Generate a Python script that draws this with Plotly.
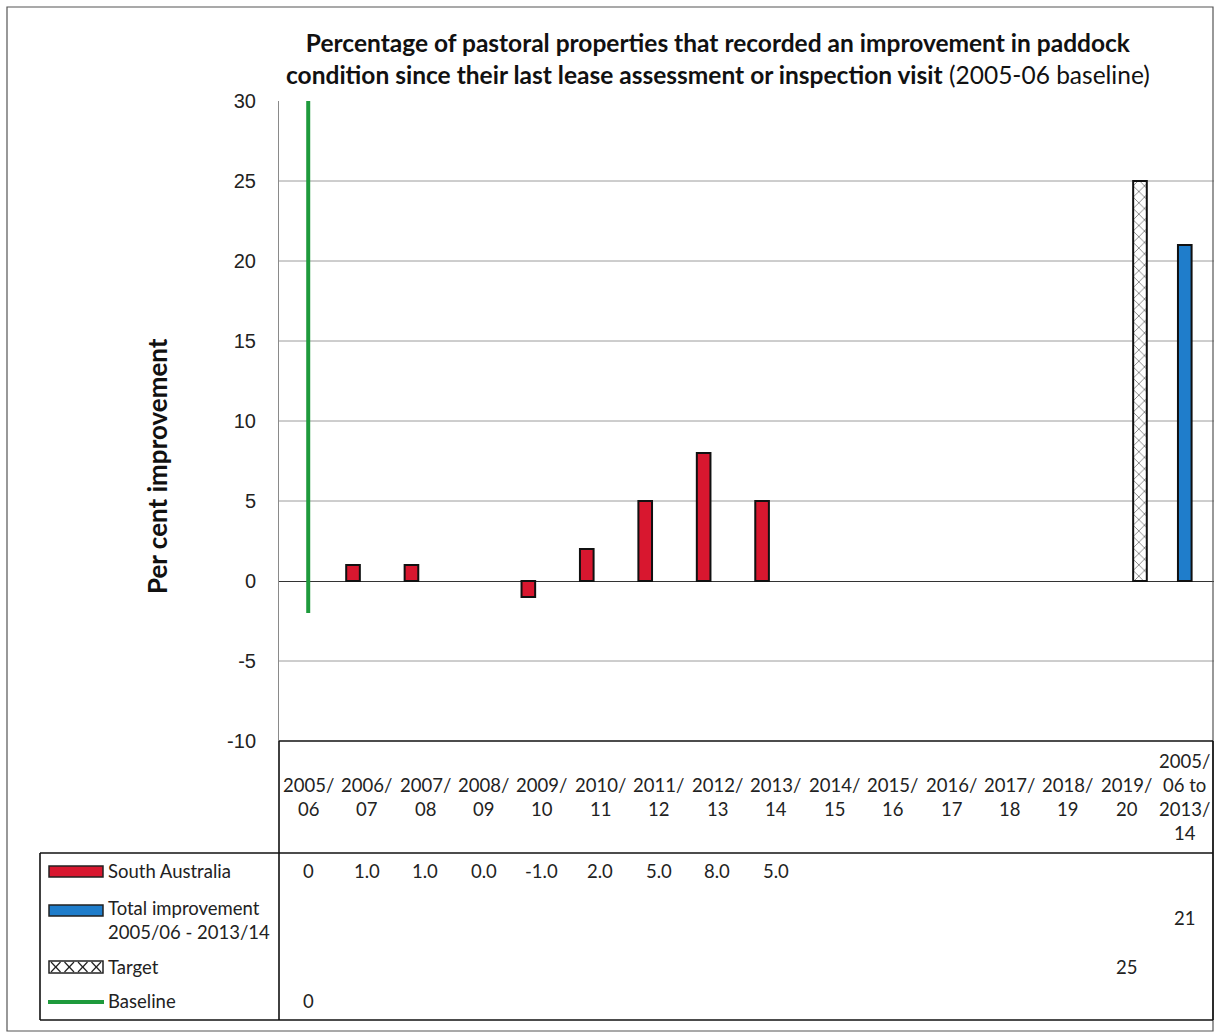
import plotly.graph_objects as go

# ---- data ----
categories = ["2005/06", "2006/07", "2007/08", "2008/09", "2009/10", "2010/11",
              "2011/12", "2012/13", "2013/14", "2014/15", "2015/16", "2016/17",
              "2017/18", "2018/19", "2019/20", "2005/06 to 2013/14"]
header_labels = ["2005/<br>06", "2006/<br>07", "2007/<br>08", "2008/<br>09", "2009/<br>10",
                 "2010/<br>11", "2011/<br>12", "2012/<br>13", "2013/<br>14", "2014/<br>15",
                 "2015/<br>16", "2016/<br>17", "2017/<br>18", "2018/<br>19", "2019/<br>20",
                 "2005/<br>06 to<br>2013/<br>14"]
sa_values = [0, 1.0, 1.0, 0.0, -1.0, 2.0, 5.0, 8.0, 5.0,
             None, None, None, None, None, None, None]
total_values = [None] * 15 + [21]
target_values = [None] * 14 + [25, None]
baseline_value = {"2005/06": 0}
baseline_span = [-2, 30]
y_ticks = [-10, -5, 0, 5, 10, 15, 20, 25, 30]
grid_values = [-5, 5, 10, 15, 20, 25]

# ---- geometry (pixels) ----
W, H = 1216, 1033
ML, MR, MT, MB = 279, 2, 101, 292
PW, PH = W - ML - MR, H - MT - MB


def px(x):
    return (x - ML) / PW


def py(y):
    return (H - MB - y) / PH


FONT = "Lato"
RED = "#D8172F"
BLUE = "#1F7DCB"
GREEN = "#1E9A3C"


def outline_widths(values, w=2):
    # zero-height bars get no outline so they vanish like empty cells
    return [w if (v is not None and v != 0) else 0 for v in values]


fig = go.Figure()

fig.add_trace(go.Bar(
    name="South Australia", x=categories, y=sa_values,
    marker=dict(color=RED, line=dict(color="#111", width=outline_widths(sa_values))),
))
fig.add_trace(go.Bar(
    name="Total improvement 2005/06 - 2013/14", x=categories, y=total_values,
    marker=dict(color=BLUE, line=dict(color="#111", width=2)),
))
fig.add_trace(go.Bar(
    name="Target", x=categories, y=target_values,
    marker=dict(color="white", line=dict(color="#111", width=2),
                pattern=dict(shape="x", fgcolor="#111", bgcolor="white",
                             size=8, solidity=0.22)),
))
base_cat = list(baseline_value)[0]
fig.add_trace(go.Scatter(
    name="Baseline", x=[base_cat, base_cat], y=baseline_span, mode="lines",
    line=dict(color=GREEN, width=4),
))

shapes = []
# horizontal gridlines
for g in grid_values:
    shapes.append(dict(type="line", xref="paper", yref="y", x0=0, x1=1, y0=g, y1=g,
                       line=dict(color="#9c9c9c", width=1), layer="below"))


def hline(x0, x1, y, color="#111", width=1.6):
    shapes.append(dict(type="line", xref="paper", yref="paper",
                       x0=px(x0), x1=px(x1), y0=py(y), y1=py(y),
                       line=dict(color=color, width=width)))


def vline(x, y0, y1, color="#111", width=1.6):
    shapes.append(dict(type="line", xref="paper", yref="paper",
                       x0=px(x), x1=px(x), y0=py(y0), y1=py(y1),
                       line=dict(color=color, width=width)))


# outer chart frame
shapes.append(dict(type="rect", xref="paper", yref="paper",
                   x0=px(7), x1=px(1213), y0=py(1031), y1=py(7),
                   line=dict(color="#555", width=1.2)))
# data table grid
hline(279, 1213, 741)
hline(40, 1213, 853)
hline(40, 1213, 1020)
vline(279, 741, 1020)
vline(1213, 741, 1020)
vline(40, 853, 1020)

# legend keys inside the table
shapes.append(dict(type="rect", xref="paper", yref="paper",
                   x0=px(49), x1=px(103), y0=py(877), y1=py(866),
                   fillcolor=RED, line=dict(color="#222", width=1.5)))
shapes.append(dict(type="rect", xref="paper", yref="paper",
                   x0=px(49), x1=px(103), y0=py(916), y1=py(905),
                   fillcolor=BLUE, line=dict(color="#222", width=1.5)))
shapes.append(dict(type="rect", xref="paper", yref="paper",
                   x0=px(49), x1=px(103), y0=py(973), y1=py(961),
                   fillcolor="white", line=dict(color="#222", width=1.5)))
cell = 54 / 4
for k in range(4):
    a = 49 + k * cell
    b = a + cell
    for (ya, yb) in ((962, 972), (972, 962)):
        shapes.append(dict(type="line", xref="paper", yref="paper",
                           x0=px(a + 2), x1=px(b - 2), y0=py(ya), y1=py(yb),
                           line=dict(color="#222", width=1.2)))
shapes.append(dict(type="line", xref="paper", yref="paper",
                   x0=px(48), x1=px(104), y0=py(1002), y1=py(1002),
                   line=dict(color=GREEN, width=4)))

annotations = []
TXT = dict(family=FONT, size=18.5, color="#222")

# title
annotations.append(dict(
    xref="paper", yref="paper", x=px(718), y=py(58), xanchor="center", yanchor="middle",
    showarrow=False, align="center",
    text="<b>Percentage of pastoral properties that recorded an improvement in paddock</b><br>"
         "<b>condition since their last lease assessment or inspection visit</b> (2005-06 baseline)",
    font=dict(family=FONT, size=24.5, color="#111"),
))
# y-axis title
annotations.append(dict(
    xref="paper", yref="paper", x=px(157), y=py(466), xanchor="center", yanchor="middle",
    showarrow=False, textangle=-90, text="<b>Per cent improvement</b>",
    font=dict(family=FONT, size=26, color="#111"),
))

# table header (category labels)
for cat, lab in zip(categories, header_labels):
    annotations.append(dict(xref="x", yref="paper", x=cat, y=py(797),
                            xanchor="center", yanchor="middle", showarrow=False,
                            align="center", text=lab, font=TXT))

# table row labels
row_labels = [("South Australia", 871), ("Total improvement<br>2005/06 - 2013/14", 920),
              ("Target", 967), ("Baseline", 1001)]
for lab, yy in row_labels:
    annotations.append(dict(xref="paper", yref="paper", x=px(106), y=py(yy),
                            xanchor="left", yanchor="middle", showarrow=False,
                            align="left", text=lab, font=TXT))

# table values
for i, (cat, v) in enumerate(zip(categories, sa_values)):
    if v is None:
        continue
    txt = f"{v:.0f}" if i == 0 else f"{v:.1f}"
    annotations.append(dict(xref="x", yref="paper", x=cat, y=py(871), showarrow=False,
                            xanchor="center", yanchor="middle", text=txt, font=TXT))
for cat, v in zip(categories, total_values):
    if v is not None:
        annotations.append(dict(xref="x", yref="paper", x=cat, y=py(918), showarrow=False,
                                xanchor="center", yanchor="middle", text=f"{v:g}", font=TXT))
for cat, v in zip(categories, target_values):
    if v is not None:
        annotations.append(dict(xref="x", yref="paper", x=cat, y=py(967), showarrow=False,
                                xanchor="center", yanchor="middle", text=f"{v:g}", font=TXT))
for cat, v in baseline_value.items():
    annotations.append(dict(xref="x", yref="paper", x=cat, y=py(1001), showarrow=False,
                            xanchor="center", yanchor="middle", text=f"{v:g}", font=TXT))

fig.update_layout(
    width=W, height=H,
    margin=dict(l=ML, r=MR, t=MT, b=MB),
    paper_bgcolor="white", plot_bgcolor="white",
    barmode="group", bargap=0.3, bargroupgap=0,
    showlegend=False,
    shapes=shapes, annotations=annotations,
    xaxis=dict(type="category", categoryorder="array", categoryarray=categories,
               range=[-0.5, len(categories) - 0.5], showticklabels=False,
               showgrid=False, zeroline=False, showline=False, ticks=""),
    yaxis=dict(range=[-10, 30], tickvals=y_ticks, ticktext=[str(t) for t in y_ticks],
               showgrid=False, zeroline=True, zerolinecolor="#333", zerolinewidth=1,
               showline=True, linecolor="#8a8a8a", linewidth=1, ticks="",
               ticklabelstandoff=18,
               tickfont=dict(family="Liberation Sans", size=20, color="#222")),
)

fig.write_html("out.html")
